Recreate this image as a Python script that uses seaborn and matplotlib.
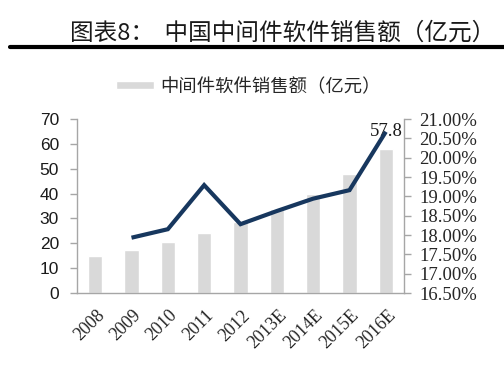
import numpy as np
import pandas as pd
import matplotlib
matplotlib.use("Agg")
import matplotlib.pyplot as plt
import matplotlib.transforms as mtransforms
from matplotlib.lines import Line2D
import seaborn as sns

# data
years = ['2008', '2009', '2010', '2011', '2012', '2013E', '2014E', '2015E', '2016E']
sales = [15.0, 17.2, 20.4, 24.2, 28.5, 33.8, 40.0, 47.8, 57.8]
growth_years = years[1:]
growth = [17.93, 18.15, 19.29, 18.28, 18.62, 18.94, 19.16, 20.67]

title = '图表8：  中国中间件软件销售额（亿元）'
legend_label = '中间件软件销售额（亿元）'

bar_color = '#D9D9D9'
line_color = '#17375E'
spine_color = '#A6A6A6'

sns.set_style("white")
plt.rcParams['font.family'] = ['Noto Sans CJK SC', 'DejaVu Sans']

fig = plt.figure(figsize=(5.04, 3.72), dpi=100)
ax = fig.add_axes([77/504, 1-293/372, 327/504, 174/372])

df = pd.DataFrame({'year': years, 'sales': sales})
sns.barplot(data=df, x='year', y='sales', color=bar_color, saturation=1,
            width=0.39, ax=ax, label=legend_label)

handles, labels = ax.get_legend_handles_labels()
if ax.get_legend() is not None:
    ax.get_legend().remove()

ax.set_xlim(-0.5, len(years) - 0.5)
ax.set_ylim(0, 70)
ax.set_yticks(np.arange(0, 71, 10))
ax.set_xlabel('')
ax.set_ylabel('')

# x: labels at centers, tick marks at boundaries
ax.set_xticks(np.arange(len(years)))
ax.set_xticklabels(years, rotation=45, ha='right', va='top', rotation_mode='anchor',
                   family='Liberation Serif', fontsize=13)
ax.set_xticks(np.arange(len(years) + 1) - 0.5, minor=True)
ax.tick_params(axis='x', which='major', length=0, pad=10)
ax.tick_params(axis='x', which='minor', length=4, color=spine_color, width=1, direction='out')
shift = mtransforms.ScaledTranslation(1/100, 0, fig.dpi_scale_trans)
for lab in ax.get_xticklabels():
    lab.set_transform(lab.get_transform() + shift)

ax.tick_params(axis='y', length=5, color=spine_color, width=1, direction='out',
               labelsize=12.5, labelcolor='#1a1a1a', pad=8)
for lab in ax.get_yticklabels():
    lab.set_family('Liberation Sans')

for s in ['top', 'right']:
    ax.spines[s].set_visible(False)
for s in ['left', 'bottom']:
    ax.spines[s].set_color(spine_color)
    ax.spines[s].set_linewidth(1)

ax.annotate('57.8', xy=(8, sales[-1]), xytext=(0, 7), textcoords='offset points',
            ha='center', va='bottom', family='Liberation Serif', fontsize=13.5,
            color='#1a1a1a')

# growth line on right axis
ax2 = ax.twinx()
sns.lineplot(x=np.arange(1, len(years)), y=growth, color=line_color, linewidth=3,
             ax=ax2, solid_capstyle='butt', solid_joinstyle='miter')
ax2.set_ylim(16.5, 21.0)
ax2.set_yticks(np.arange(16.5, 21.01, 0.5))
ax2.set_yticklabels(['%.2f%%' % v for v in np.arange(16.5, 21.01, 0.5)],
                    family='Liberation Serif', fontsize=13.5)
ax2.tick_params(axis='y', length=5, color=spine_color, width=1, direction='out', pad=6)
for s in ['top', 'left', 'bottom']:
    ax2.spines[s].set_visible(False)
ax2.spines['right'].set_color(spine_color)
ax2.spines['right'].set_linewidth(1)
ax2.set_xlim(-0.5, len(years) - 0.5)

# legend
fig.legend(handles, labels, loc='center', bbox_to_anchor=(248/504, 1-87/372),
           frameon=False, handlelength=2.1, handleheight=0.3, handletextpad=0.3,
           prop={'family': 'Noto Sans CJK SC', 'size': 13.2})

# title with rule
fig.text(283/504, 1-33/372, title, ha='center', va='center', fontsize=17,
         color='#1a1a1a')
fig.add_artist(Line2D([10/504, 1.0], [1-47/372, 1-47/372], color='black', linewidth=3,
                      transform=fig.transFigure))

plt.savefig('out.png', dpi=100)
plt.close()
